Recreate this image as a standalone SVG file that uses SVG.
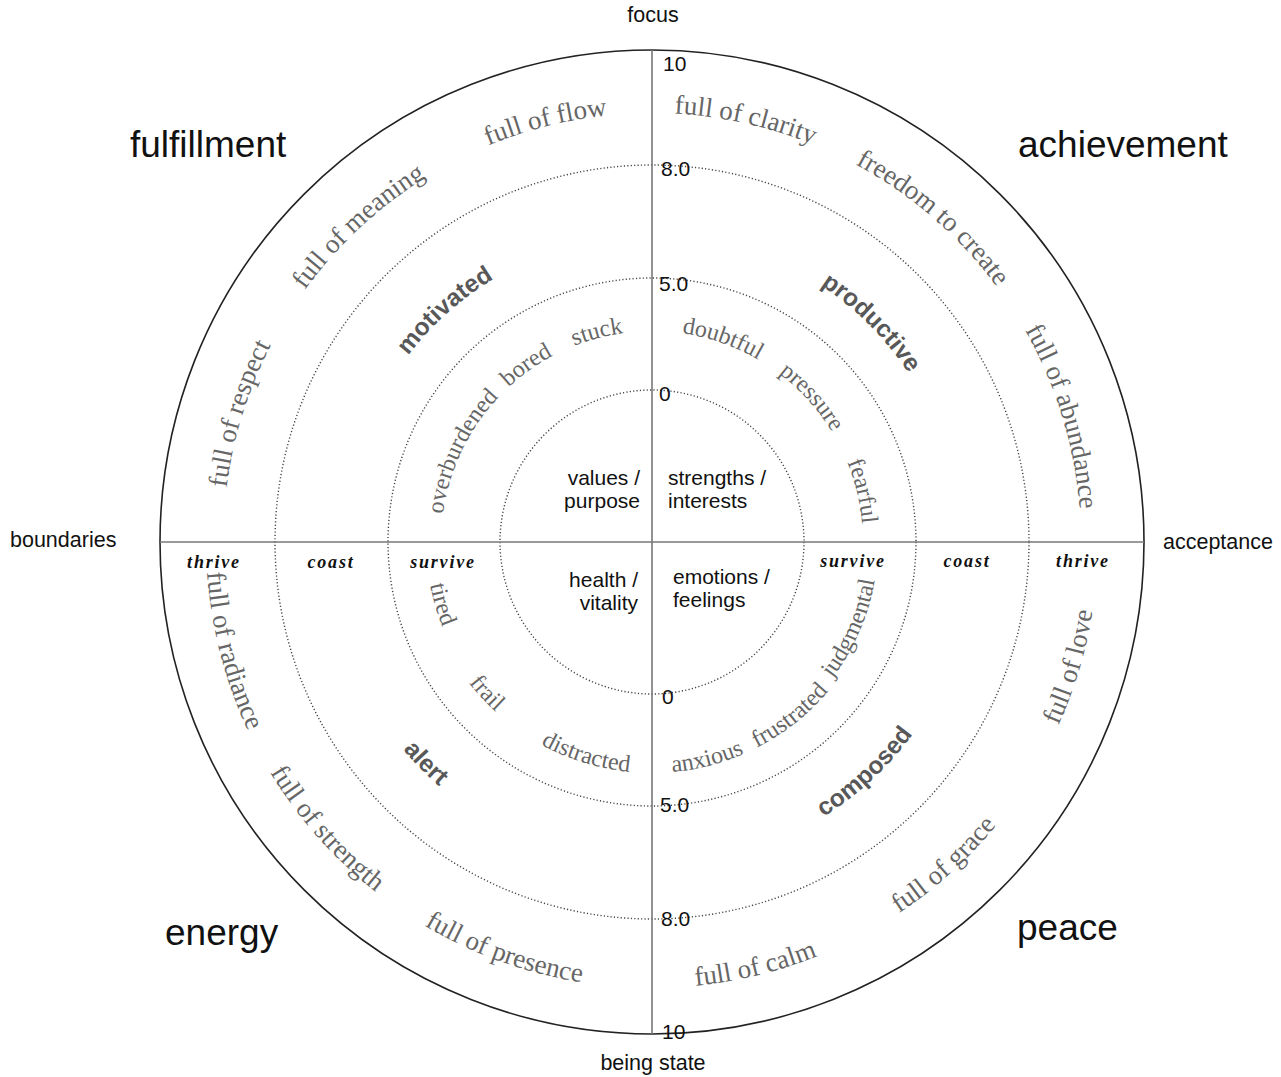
<svg xmlns="http://www.w3.org/2000/svg" xmlns:xlink="http://www.w3.org/1999/xlink" width="1281" height="1077" viewBox="0 0 1281 1077">
<style>
.bg{fill:#ffffff}
.outer{fill:none;stroke:#222;stroke-width:1.6}
.dot{fill:none;stroke:#444;stroke-width:1.4;stroke-dasharray:1.2 2.2}
.axis{stroke:#777;stroke-width:1.6;fill:none}
.sans{font-family:"Liberation Sans",Arial,sans-serif;fill:#111}
.big{font-size:37px}
.dir{font-size:21.5px}
.mid{font-size:21px}
.num{font-family:"Liberation Sans",Arial,sans-serif;font-size:21px;fill:#111}
.outerTxt{font-family:"Liberation Serif","DejaVu Serif",serif;font-size:27px;fill:#666}
.innerTxt{font-family:"Liberation Serif","DejaVu Serif",serif;font-size:24px;fill:#666}
.boldTxt{font-family:"Liberation Sans",Arial,sans-serif;font-weight:bold;font-size:24.5px;fill:#585858}
.zone{font-family:"Liberation Serif","DejaVu Serif",serif;font-weight:bold;font-style:italic;font-size:18px;letter-spacing:1.8px;fill:#111;text-anchor:middle}
</style>
<defs>
<path id="pOU" d="M280.5,327.5 A429,429 0 0 1 1023.5,327.5"/>
<path id="pOL" d="M265.8,765 A446,446 0 0 0 1038.2,765"/>
<path id="pIU" d="M469.3,436.5 A211,211 0 0 1 834.7,436.5"/>
<path id="pIL" d="M452,657.5 A231,231 0 0 0 852,657.5"/>
<path id="pIL2" d="M456.3,655 A226,226 0 0 0 847.7,655"/>
<path id="pBU" d="M386.1,388.5 A307,307 0 0 1 917.9,388.5"/>
<path id="pBL" d="M371.4,704 A324,324 0 0 0 932.6,704"/>
</defs>
<rect class="bg" x="0" y="0" width="1281" height="1077"/>

<g id="rings">
<circle class="outer" cx="652" cy="542" r="492"/>
<circle class="dot" cx="652" cy="542" r="377"/>
<circle class="dot" cx="652" cy="542" r="264"/>
<circle class="dot" cx="652" cy="542" r="152"/>
</g>

<g id="connectors">
<line class="axis" x1="652" y1="50" x2="652" y2="1034"/>
<line class="axis" x1="160" y1="542" x2="1144" y2="542"/>
</g>

<g id="axis-labels" class="sans dir">
<text x="653" y="22" text-anchor="middle">focus</text>
<text x="653" y="1070" text-anchor="middle">being state</text>
<text x="10" y="547">boundaries</text>
<text x="1163" y="549">acceptance</text>
</g>

<g id="scale">
<text class="num" x="663" y="71">10</text>
<text class="num" x="661" y="176">8.0</text>
<text class="num" x="659" y="291">5.0</text>
<text class="num" x="659" y="401">0</text>
<text class="num" x="662" y="704">0</text>
<text class="num" x="660" y="812">5.0</text>
<text class="num" x="661" y="926">8.0</text>
<text class="num" x="662" y="1039">10</text>
</g>

<g id="corner-labels" class="sans big">
<text id="fulfillment" x="130" y="157">fulfillment</text>
<text id="achievement" x="1018" y="157">achievement</text>
<text id="energy" x="165" y="945">energy</text>
<text id="peace" x="1017" y="940">peace</text>
</g>

<g id="core" class="sans mid">
<g id="values"><text x="640" y="485" text-anchor="end">values /</text><text x="640" y="508" text-anchor="end">purpose</text></g>
<g id="strengths"><text x="668" y="485">strengths /</text><text x="668" y="508">interests</text></g>
<g id="health"><text x="638" y="587" text-anchor="end">health /</text><text x="638" y="610" text-anchor="end">vitality</text></g>
<g id="emotions"><text x="673" y="584">emotions /</text><text x="673" y="607">feelings</text></g>
</g>

<g id="zones">
<text class="zone" x="214" y="568">thrive</text>
<text class="zone" x="331" y="568">coast</text>
<text class="zone" x="443" y="568">survive</text>
<text class="zone" x="853" y="567">survive</text>
<text class="zone" x="967" y="567">coast</text>
<text class="zone" x="1083" y="567">thrive</text>
</g>

<g id="thrive-states" class="outerTxt">
<g id="full-of-flow" transform="rotate(-14.2 652 542)"><text><textPath href="#pOU" xlink:href="#pOU" startOffset="50%" text-anchor="middle">full of flow</textPath></text></g>
<g id="full-of-clarity" transform="rotate(12.5 652 542)"><text><textPath href="#pOU" xlink:href="#pOU" startOffset="50%" text-anchor="middle">full of clarity</textPath></text></g>
<g id="full-of-meaning" transform="rotate(-42.9 652 542)"><text><textPath href="#pOU" xlink:href="#pOU" startOffset="50%" text-anchor="middle">full of meaning</textPath></text></g>
<g id="freedom-to-create" transform="rotate(40.9 652 542)"><text><textPath href="#pOU" xlink:href="#pOU" startOffset="50%" text-anchor="middle">freedom to create</textPath></text></g>
<g id="full-of-respect" transform="rotate(-72.7 652 542)"><text><textPath href="#pOU" xlink:href="#pOU" startOffset="50%" text-anchor="middle">full of respect</textPath></text></g>
<g id="full-of-abundance" transform="rotate(73 652 542)"><text><textPath href="#pOU" xlink:href="#pOU" startOffset="50%" text-anchor="middle">full of abundance</textPath></text></g>
<g id="full-of-radiance" transform="rotate(75.5 652 542)"><text><textPath href="#pOL" xlink:href="#pOL" startOffset="50%" text-anchor="middle">full of radiance</textPath></text></g>
<g id="full-of-strength" transform="rotate(48.6 652 542)"><text><textPath href="#pOL" xlink:href="#pOL" startOffset="50%" text-anchor="middle">full of strength</textPath></text></g>
<g id="full-of-presence" transform="rotate(19.9 652 542)"><text><textPath href="#pOL" xlink:href="#pOL" startOffset="50%" text-anchor="middle">full of presence</textPath></text></g>
<g id="full-of-calm" transform="rotate(-13.7 652 542)"><text><textPath href="#pOL" xlink:href="#pOL" startOffset="50%" text-anchor="middle">full of calm</textPath></text></g>
<g id="full-of-grace" transform="rotate(-42.1 652 542)"><text><textPath href="#pOL" xlink:href="#pOL" startOffset="50%" text-anchor="middle">full of grace</textPath></text></g>
<g id="full-of-love" transform="rotate(-73.4 652 542)"><text><textPath href="#pOL" xlink:href="#pOL" startOffset="50%" text-anchor="middle">full of love</textPath></text></g>
</g>

<g id="coast-states" class="boldTxt">
<g id="motivated" transform="rotate(-41.8 652 542)"><text><textPath href="#pBU" xlink:href="#pBU" startOffset="50%" text-anchor="middle">motivated</textPath></text></g>
<g id="productive" transform="rotate(45 652 542)"><text><textPath href="#pBU" xlink:href="#pBU" startOffset="50%" text-anchor="middle">productive</textPath></text></g>
<g id="alert" transform="rotate(45.6 652 542)"><text><textPath href="#pBL" xlink:href="#pBL" startOffset="50%" text-anchor="middle">alert</textPath></text></g>
<g id="composed" transform="rotate(-42.8 652 542)"><text><textPath href="#pBL" xlink:href="#pBL" startOffset="50%" text-anchor="middle">composed</textPath></text></g>
</g>

<g id="survive-states" class="innerTxt">
<g id="stuck" transform="rotate(-14.7 652 542)"><text><textPath href="#pIU" xlink:href="#pIU" startOffset="50%" text-anchor="middle">stuck</textPath></text></g>
<g id="bored" transform="rotate(-35.4 652 542)"><text><textPath href="#pIU" xlink:href="#pIU" startOffset="50%" text-anchor="middle">bored</textPath></text></g>
<g id="overburdened" transform="rotate(-64.5 652 542)"><text><textPath href="#pIU" xlink:href="#pIU" startOffset="50%" text-anchor="middle">overburdened</textPath></text></g>
<g id="doubtful" transform="rotate(19.2 652 542)"><text><textPath href="#pIU" xlink:href="#pIU" startOffset="50%" text-anchor="middle">doubtful</textPath></text></g>
<g id="pressure" transform="rotate(47.8 652 542)"><text><textPath href="#pIU" xlink:href="#pIU" startOffset="50%" text-anchor="middle">pressure</textPath></text></g>
<g id="fearful" transform="rotate(76.4 652 542)"><text><textPath href="#pIU" xlink:href="#pIU" startOffset="50%" text-anchor="middle">fearful</textPath></text></g>
<g id="tired" transform="rotate(73.5 652 542)"><text><textPath href="#pIL2" xlink:href="#pIL2" startOffset="50%" text-anchor="middle">tired</textPath></text></g>
<g id="frail" transform="rotate(47.5 652 542)"><text><textPath href="#pIL" xlink:href="#pIL" startOffset="50%" text-anchor="middle">frail</textPath></text></g>
<g id="distracted" transform="rotate(17.2 652 542)"><text><textPath href="#pIL" xlink:href="#pIL" startOffset="50%" text-anchor="middle">distracted</textPath></text></g>
<g id="anxious" transform="rotate(-14.3 652 542)"><text><textPath href="#pIL" xlink:href="#pIL" startOffset="50%" text-anchor="middle">anxious</textPath></text></g>
<g id="frustrated" transform="rotate(-38.4 652 542)"><text><textPath href="#pIL" xlink:href="#pIL" startOffset="50%" text-anchor="middle">frustrated</textPath></text></g>
<g id="judgmental" transform="rotate(-66.6 652 542)"><text><textPath href="#pIL2" xlink:href="#pIL2" startOffset="50%" text-anchor="middle">judgmental</textPath></text></g>
</g>
</svg>
